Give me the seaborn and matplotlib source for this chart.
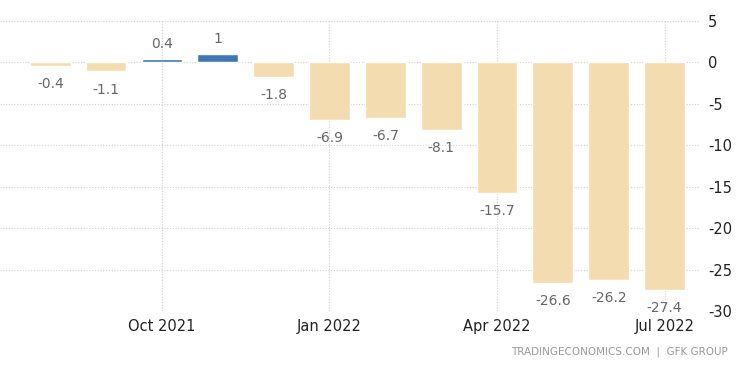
import numpy as np
import pandas as pd
import seaborn as sns
from matplotlib import pyplot as plt

months = ["Aug 2021", "Sep 2021", "Oct 2021", "Nov 2021", "Dec 2021", "Jan 2022",
          "Feb 2022", "Mar 2022", "Apr 2022", "May 2022", "Jun 2022", "Jul 2022"]
values = [-0.4, -1.1, 0.4, 1, -1.8, -6.9, -6.7, -8.1, -15.7, -26.6, -26.2, -27.4]
value_labels = ["-0.4", "-1.1", "0.4", "1", "-1.8", "-6.9", "-6.7", "-8.1",
                "-15.7", "-26.6", "-26.2", "-27.4"]
tick_months = ["Oct 2021", "Jan 2022", "Apr 2022", "Jul 2022"]

sns.set_style("white")
plt.rcParams['font.family'] = ['DejaVu Sans']
plt.rcParams['axes.unicode_minus'] = False

df = pd.DataFrame({"month": months, "value": values})
pos_color = "#3f77b5"
neg_color = "#f3dcb0"
palette = {m: (pos_color if v > 0 else neg_color) for m, v in zip(months, values)}

fig = plt.figure(figsize=(7.5, 3.73), dpi=100)
ax = fig.add_axes([0.0, 0.166, 0.933, 0.778])

sns.barplot(data=df, x="month", y="value", hue="month", palette=palette,
            legend=False, width=0.73, ax=ax, saturation=1)

for i, (v, lab) in enumerate(zip(values, value_labels)):
    if v >= 0:
        ax.annotate(lab, xy=(i, v), xytext=(0, 6), textcoords="offset points",
                    ha="center", va="bottom", color="#666666", fontsize=10)
    else:
        ax.annotate(lab, xy=(i, v), xytext=(0, -8), textcoords="offset points",
                    ha="center", va="top", color="#666666", fontsize=10)

ax.set_ylim(-30, 5)
ax.set_yticks(np.arange(-30, 6, 5))
ax.yaxis.tick_right()
ax.set_xlim(-0.9, 11.63)
tick_idx = [months.index(m) for m in tick_months]
ax.set_xticks(tick_idx)
ax.set_xticklabels(tick_months)
ax.tick_params(axis="both", length=0, labelsize=10.5, colors="#222222", pad=6)
ax.set_xlabel("")
ax.set_ylabel("")
ax.grid(True, linestyle=(0, (1, 1.5)), color="#d0d0d0", linewidth=0.8)
ax.set_axisbelow(True)
for s in ax.spines.values():
    s.set_visible(False)

fig.text(0.97, 0.056, "TRADINGECONOMICS.COM  |  GFK GROUP", ha="right", va="center",
         fontsize=7.5, color="#999999")

fig.savefig("out.png", dpi=100)
